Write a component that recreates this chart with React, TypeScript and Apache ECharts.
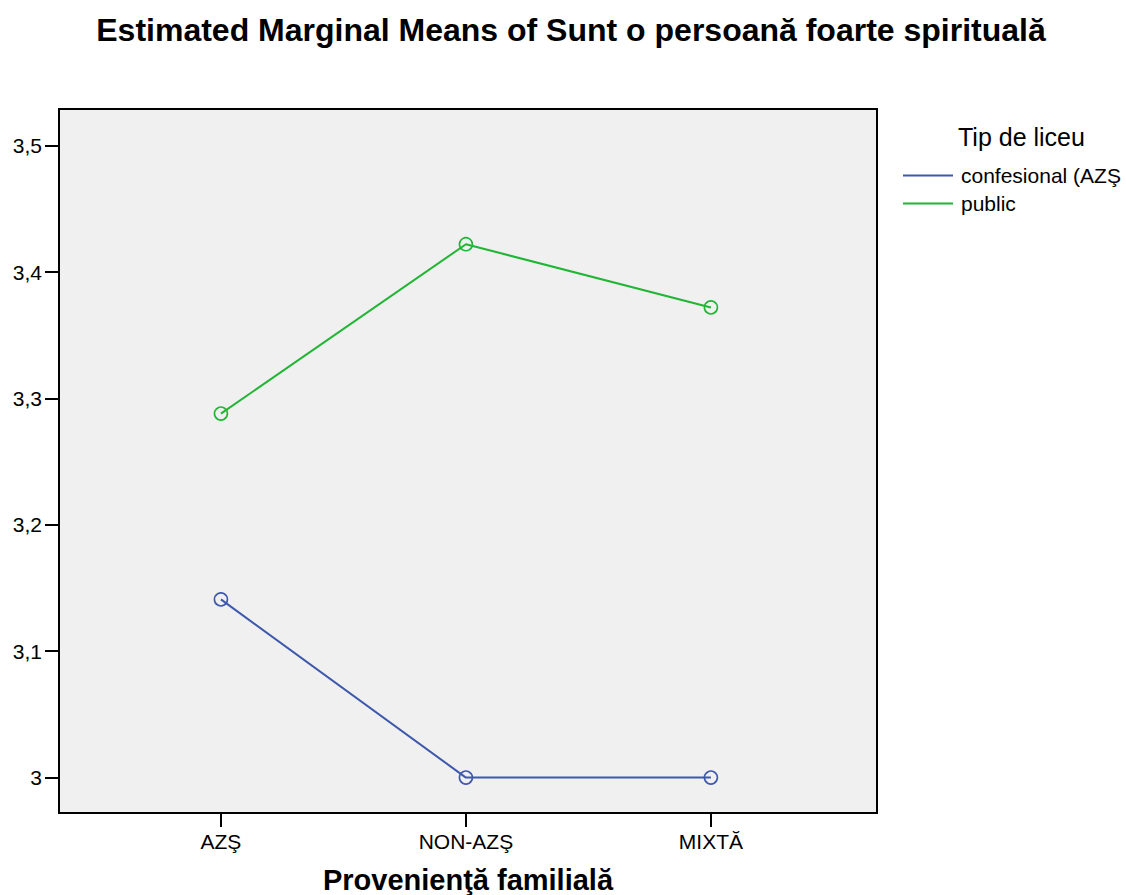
import React, { useEffect, useRef } from "react";
import * as echarts from "echarts";

const categories = ["AZŞ", "NON-AZŞ", "MIXTĂ"];
const seriesNames = ["confesional (AZŞ", "public"];
const confesionalValues = [3.141, 3.0, 3.0];
const publicValues = [3.288, 3.422, 3.372];
const yTicks = [3.0, 3.1, 3.2, 3.3, 3.4, 3.5];
const xTicks = [0, 1, 2];
const colors = ["#3e58ac", "#21b534"];

const FONT = "Liberation Sans, Arial, sans-serif";

export default function App() {
  const ref = useRef<HTMLDivElement>(null);
  useEffect(() => {
    if (!ref.current) return;
    const chart = echarts.init(ref.current, null, { renderer: "svg" });
    const mk = (name: string, vals: number[], color: string) => ({
      name,
      type: "line",
      data: vals.map((v, i) => [xTicks[i], v]),
      symbol: "circle",
      symbolSize: 13,
      lineStyle: { color, width: 2 },
      itemStyle: { color: "rgba(0,0,0,0)", borderColor: color, borderWidth: 1.6 },
      emphasis: { disabled: true },
    });
    chart.setOption({
      animation: false,
      textStyle: { fontFamily: FONT },
      title: {
        text: "Estimated Marginal Means of Sunt o persoană foarte spirituală",
        left: 566,
        textAlign: "center",
        top: 9,
        textStyle: { fontSize: 32, fontWeight: "bold", color: "#000", fontFamily: FONT },
      },
      grid: {
        left: 59,
        width: 818,
        top: 109,
        height: 704,
        outerBoundsMode: "none",
        containLabel: false,
        show: true,
        backgroundColor: "#f0f0f0",
        borderColor: "#000",
        borderWidth: 2,
      },
      legend: {
        orient: "vertical",
        left: 898,
        top: 160,
        itemGap: 7,
        itemWidth: 50,
        itemHeight: 2,
        textStyle: { fontSize: 21, color: "#000", fontFamily: FONT, padding: [0, 0, 0, 3] },
        data: seriesNames.map((n, i) => ({ name: n, icon: "rect", itemStyle: { color: colors[i], borderWidth: 0 } })),
      },
      graphic: [
        {
          type: "text",
          x: 958,
          y: 137,
          style: {
            text: "Tip de liceu",
            fontSize: 25,
            fill: "#000",
            fontFamily: FONT,
            verticalAlign: "middle",
          },
        },
      ],
      xAxis: {
        type: "value",
        min: -0.661,
        max: 2.678,
        name: "Provenienţă familială",
        nameLocation: "middle",
        nameGap: 52,
        nameTextStyle: { fontSize: 29, fontWeight: "bold", color: "#000", fontFamily: FONT },
        axisLine: { show: false, onZero: false },
        splitLine: { show: false },
        axisTick: { show: true, customValues: xTicks, length: 14, lineStyle: { color: "#000", width: 2 } },
        axisLabel: {
          customValues: xTicks,
          fontSize: 21,
          color: "#000",
          margin: 18,
          fontFamily: FONT,
          formatter: (v: number) => categories[Math.round(v)] ?? "",
        },
      },
      yAxis: {
        type: "value",
        min: 2.972,
        max: 3.529,
        axisLine: { show: false, onZero: false },
        splitLine: { show: false },
        axisTick: { show: true, customValues: yTicks, length: 14, lineStyle: { color: "#000", width: 2 } },
        axisLabel: {
          customValues: yTicks,
          fontSize: 21,
          color: "#000",
          margin: 17,
          fontFamily: FONT,
          formatter: (v: number) => (Math.abs(v - 3) < 1e-9 ? "3" : v.toFixed(1).replace(".", ",")),
        },
      },
      series: [mk(seriesNames[0], confesionalValues, colors[0]), mk(seriesNames[1], publicValues, colors[1])],
    });
    return () => chart.dispose();
  }, []);
  return <div ref={ref} style={{ position: "absolute", left: 0, top: 0, width: 1126, height: 895 }} />;
}
